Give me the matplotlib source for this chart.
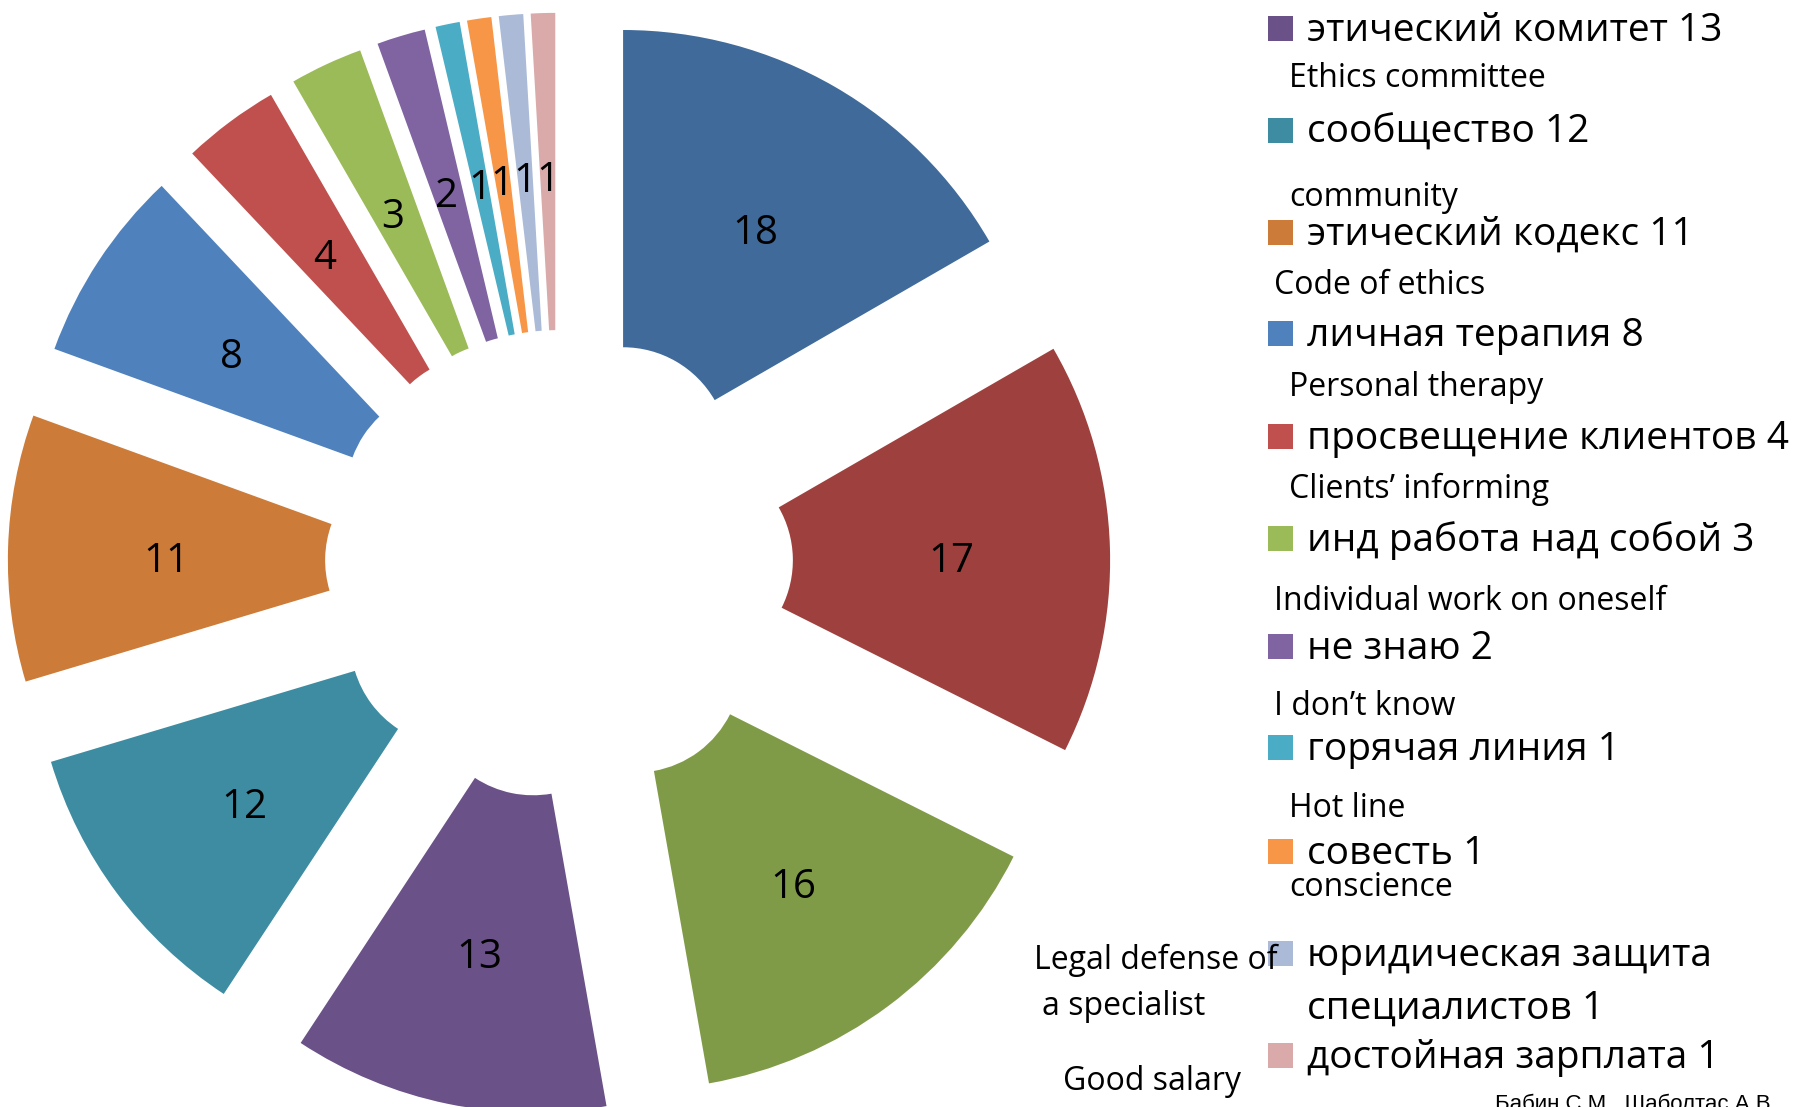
import matplotlib
matplotlib.use("Agg")
import matplotlib.pyplot as plt
from matplotlib.patches import Rectangle

plt.rcParams['font.family'] = ['Open Sans', 'DejaVu Sans']

# ---------------- data ----------------
values = [18, 17, 16, 13, 12, 11, 8, 4, 3, 2, 1, 1, 1, 1]
colors = ['#3F6A9A', '#9E413E', '#809B48', '#6A5187', '#3D8CA1', '#CC7B38',
          '#4F81BD', '#C0504D', '#9BBB59', '#8064A2', '#4BACC6', '#F79646',
          '#AABAD7', '#D9AAA9']

legend_labels = ['этический комитет 13', 'сообщество 12', 'этический кодекс 11',
                 'личная терапия 8', 'просвещение клиентов 4',
                 'инд работа над собой 3', 'не знаю 2', 'горячая линия 1',
                 'совесть 1', 'юридическая защита\nспециалистов 1',
                 'достойная зарплата 1']
legend_colors = colors[3:]
english_labels = ['Ethics committee', 'community', 'Code of ethics',
                  'Personal therapy', 'Clients\u2019 informing',
                  'Individual work on oneself', 'I don\u2019t know', 'Hot line',
                  'conscience', 'Legal defense of', 'a specialist', 'Good salary']
credit = 'Бабин С.М., Шаболтас А.В.'

# ---------------- layout ----------------
W, H = 1796, 1107
CX, CY, RPX = 559, 564, 423          # pie centre and radius in pixels
fig = plt.figure(figsize=(W / 100, H / 100), dpi=100)
ax = fig.add_axes([0, 0, 1, 1])

total = sum(values)
wedges, texts, autotexts = ax.pie(
    values, colors=colors, startangle=90, counterclock=False,
    radius=1.0, explode=[0.303] * len(values),
    wedgeprops=dict(width=0.75, linewidth=0),
    autopct=lambda p: f"{round(p * total / 100)}", pctdistance=0.625,
    textprops=dict(fontsize=29, color='black'))
for t in autotexts:
    t.set_va('center_baseline')
    x, y = t.get_position()
    t.set_position((x, y - 0.01))
ax.set_xlim(-CX / RPX, (W - CX) / RPX)
ax.set_ylim(-(H - CY) / RPX, CY / RPX)
ax.set_aspect('equal')
ax.axis('off')


def fx(x):
    return x / W


def fy(y):
    return 1 - y / H


# legend: squares + russian text
leg_baselines = [41, 143, 245, 346, 449, 551, 659, 760, 864, 966, 1068]
for lab, col, yb in zip(legend_labels, legend_colors, leg_baselines):
    fig.patches.append(Rectangle((fx(1268), fy(yb)), 25 / W, 25 / H,
                                 transform=fig.transFigure, facecolor=col,
                                 edgecolor='none', zorder=1))
    lines = lab.split('\n')
    for i, ln in enumerate(lines):
        fig.text(fx(1307), fy(yb + i * 53), ln, fontsize=28, va='baseline',
                 ha='left', zorder=3)

# english sub-labels
eng_pos = [(1289, 87), (1289, 206), (1274, 294), (1289, 396), (1289, 498),
           (1274, 610), (1274, 715), (1289, 817), (1289, 896),
           (1034, 969), (1042, 1015), (1063, 1090)]
for lab, (x, y) in zip(english_labels, eng_pos):
    fig.text(fx(x), fy(y), lab, fontsize=23, va='baseline', ha='left', zorder=3)

fig.text(fx(1495), fy(1110), credit, fontsize=16, va='baseline', ha='left',
         family=['Liberation Sans', 'DejaVu Sans'])

fig.savefig('out.png', dpi=100, facecolor='white')
